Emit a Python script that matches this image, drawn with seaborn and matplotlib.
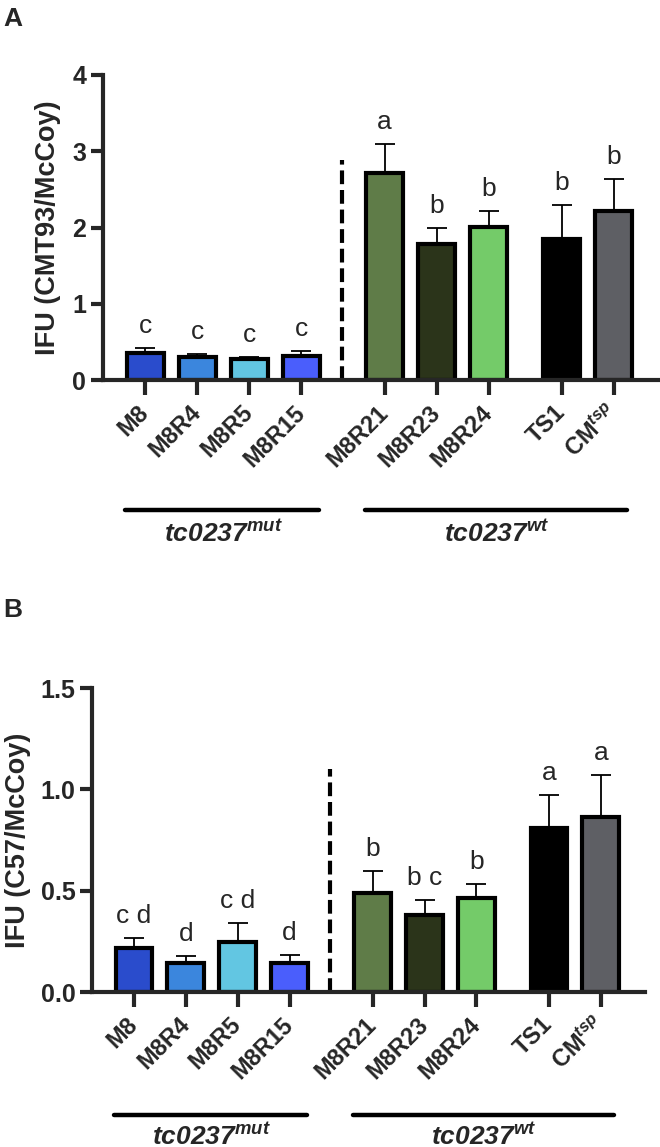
import numpy as np
import pandas as pd
import matplotlib
matplotlib.use("Agg")
import matplotlib.pyplot as plt
import matplotlib.transforms as mtransforms
from matplotlib.ticker import FormatStrFormatter
import seaborn as sns

# strains and their x positions (gaps between groups)
strains = ["M8", "M8R4", "M8R5", "M8R15", "M8R21", "M8R23", "M8R24", "TS1", "CMtsp"]
tick_labels = ["M8", "M8R4", "M8R5", "M8R15", "M8R21", "M8R23", "M8R24", "TS1", "CM$^{tsp}$"]
pos = [0, 1, 2, 3, 4.6, 5.6, 6.6, 8, 9]
colors = ["#2a4ccc", "#3b86dd", "#62c6e2", "#4a5efc", "#5f7c48",
          "#2b341a", "#74cb69", "#000000", "#5e5f64"]

# panel A: CMT93/McCoy
ifu_cmt93 = [0.35, 0.30, 0.27, 0.32, 2.72, 1.78, 2.01, 1.85, 2.21]
sd_cmt93 = [0.07, 0.04, 0.03, 0.06, 0.37, 0.21, 0.20, 0.44, 0.42]
let_cmt93 = ["c", "c", "c", "c", "a", "b", "b", "b", "b"]

# panel B: C57/McCoy
ifu_c57 = [0.215, 0.145, 0.248, 0.145, 0.488, 0.378, 0.462, 0.808, 0.862]
sd_c57 = [0.051, 0.032, 0.090, 0.038, 0.108, 0.077, 0.069, 0.162, 0.208]
let_c57 = ["c d", "d", "c d", "d", "b", "b c", "b", "a", "a"]

groups = ["$tc0237^{mut}$", "$tc0237^{wt}$"]
group_span = [(-0.38, 3.34), (4.22, 9.25)]
group_mid = [1.5, 6.75]

sns.set_style("ticks")
plt.rcParams["font.family"] = ["Liberation Sans", "DejaVu Sans"]
plt.rcParams["mathtext.fontset"] = "custom"
plt.rcParams["mathtext.rm"] = "Liberation Sans:bold:italic"
plt.rcParams["mathtext.it"] = "Liberation Sans:bold:italic"
plt.rcParams["mathtext.bf"] = "Liberation Sans:bold"

fig = plt.figure(figsize=(6.6, 11.47), dpi=100)
axA = fig.add_axes([103 / 660, 1 - 380 / 1147, 555 / 660, 305 / 1147])
axB = fig.add_axes([92 / 660, 1 - 992 / 1147, 553 / 660, 304 / 1147])


def panel(ax, vals, sds, letters, ylim, yticks, ylabel, dash_top, fmt, line_y, text_y):
    df = pd.DataFrame({"pos": pos, "ifu": vals, "strain": strains})
    sns.barplot(data=df, x="pos", y="ifu", hue="strain", palette=dict(zip(strains, colors)),
                native_scale=True, width=0.71, edgecolor="black", linewidth=3,
                saturation=1, errorbar=None, legend=False, ax=ax, zorder=2)
    ax.errorbar(pos, vals, yerr=[np.zeros(len(vals)), sds], fmt="none", ecolor="black",
                elinewidth=1.3, capsize=7, capthick=1.3, zorder=1)
    for x, v, s, t in zip(pos, vals, sds, letters):
        ax.annotate(t, (x, v + s), xytext=(0, 11), textcoords="offset points",
                    ha="center", va="baseline", fontsize=19)
    ax.plot([3.78, 3.78], [0, dash_top], color="black", lw=3, ls=(0, (3.3, 1.4)),
            solid_capstyle="butt")
    ax.set_xlim(-0.81, 9.85)
    ax.set_ylim(*ylim)
    ax.set_yticks(yticks)
    ax.yaxis.set_major_formatter(FormatStrFormatter(fmt))
    ax.set_xticks(pos)
    ax.set_xticklabels(tick_labels, rotation=45, ha="right", va="center",
                       rotation_mode="anchor", fontweight="bold", fontsize=17)
    for lab in ax.get_yticklabels():
        lab.set_fontweight("bold")
        lab.set_fontsize(18)
    ax.set_xlabel("")
    ax.set_ylabel(ylabel, fontsize=19.5, fontweight="bold")
    sns.despine(ax=ax)
    for sp in ["left", "bottom"]:
        ax.spines[sp].set_linewidth(3)
    ax.tick_params(axis="x", length=11, width=3, pad=10)
    ax.tick_params(axis="y", length=9, width=3, pad=3)
    trans = mtransforms.blended_transform_factory(ax.transData, ax.transAxes)
    for (x0, x1), xm, g in zip(group_span, group_mid, groups):
        ax.plot([x0, x1], [line_y, line_y], color="black", lw=3.2,
                solid_capstyle="round", transform=trans, clip_on=False)
        ax.text(xm, text_y, g, transform=trans, ha="center", va="center", fontsize=19)


panel(axA, ifu_cmt93, sd_cmt93, let_cmt93, (0, 4), [0, 1, 2, 3, 4],
      "IFU (CMT93/McCoy)", 2.88, "%g", -0.426, -0.50)
panel(axB, ifu_c57, sd_c57, let_c57, (0, 1.5), [0, 0.5, 1.0, 1.5],
      "IFU (C57/McCoy)", 1.1, "%.1f", -0.405, -0.472)
axA.yaxis.set_label_coords(-0.075, 0.5)
axB.yaxis.set_label_coords(-0.11, 0.5)

fig.text(3 / 660, 1 - 26 / 1147, "A", fontsize=19, fontweight="bold")
fig.text(3 / 660, 1 - 617 / 1147, "B", fontsize=19, fontweight="bold")

fig.savefig("out.png", dpi=100)
